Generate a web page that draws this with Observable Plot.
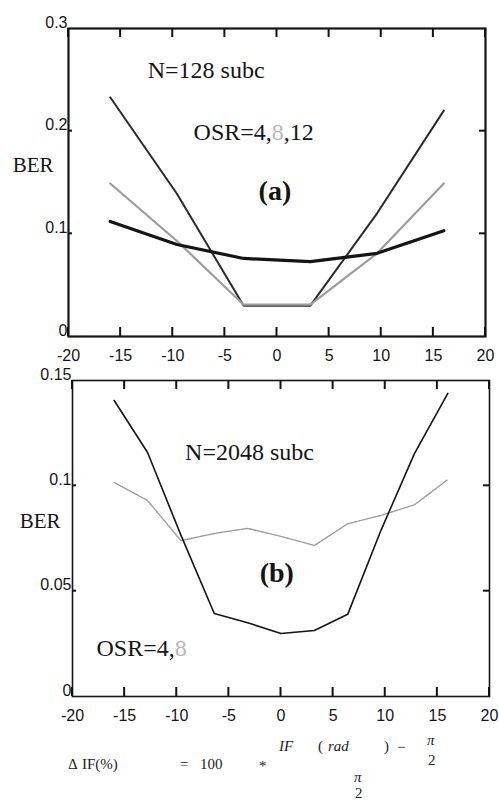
<!DOCTYPE html>
<html>
<head>
<meta charset="utf-8">
<script src="https://cdn.jsdelivr.net/npm/d3@7"></script>
<script src="https://cdn.jsdelivr.net/npm/@observablehq/plot@0.6"></script>
<style>
  body { margin: 0; background: #fff; }
  #fig { position: relative; width: 499px; height: 800px; overflow: hidden; background: #fff; }
  #fig svg { position: absolute; left: 0; overflow: visible; }
  .eq { position: absolute; font-family: "Liberation Serif", serif; font-size: 15px; line-height: 15px; color: #222; white-space: pre; }
  .it { font-style: italic; }
</style>
</head>
<body>
<div id="fig"></div>
<script>
// Panel (a): N = 128 subcarriers, BER vs IF offset (%)
const offsetA = [-16, -9.6, -3.2, 3.2, 9.6, 16];
const berA_osr4 = [0.112, 0.0896, 0.076, 0.073, 0.081, 0.103];
const berA_osr8 = [0.149, 0.093, 0.031, 0.031, 0.081, 0.149];
const berA_osr12 = [0.233, 0.139, 0.030, 0.030, 0.120, 0.220];

// Panel (b): N = 2048 subcarriers
const offsetB = [-16, -12.8, -9.6, -6.4, -3.2, 0, 3.2, 6.4, 9.6, 12.8, 16];
const berB_osr4 = [0.1405, 0.1158, 0.0766, 0.0394, 0.035, 0.0299, 0.0313, 0.039, 0.079, 0.1153, 0.1439];
const berB_osr8 = [0.1016, 0.093, 0.074, 0.0774, 0.0798, 0.076, 0.0717, 0.082, 0.086, 0.091, 0.103];

// Axis ticks
const xTicks = [-20, -15, -10, -5, 0, 5, 10, 15, 20];
const yTicksA = [0, 0.1, 0.2, 0.3];
const yTicksB = [0, 0.05, 0.1, 0.15];

// Annotation strings
const yLabel = "BER";
const notesA = ["N=128 subc", "OSR=4,8,12", "(a)"];
const notesB = ["N=2048 subc", "(b)", "OSR=4,8"];

const sans = "Liberation Sans, Arial, sans-serif";
const serif = "Liberation Serif, Times New Roman, serif";
const black = "#151515";
const gray = "#9c9c9c";
const plain = d => String(d);

const rows = (xs, ys) => xs.map((x, i) => ({x, y: ys[i]}));

// frame and tick labels
function axes(yTicks, frameWidth) {
  return [
    Plot.frame({stroke: black, strokeWidth: frameWidth}),
    Plot.axisX(xTicks, {anchor: "bottom", tickSize: 0, tickPadding: 13, tickFormat: plain, label: null, fontSize: 16, fontFamily: sans, fill: black}),
    Plot.axisY(yTicks, {anchor: "left", tickSize: 0, tickPadding: 1, dy: -6, tickFormat: plain, label: null, fontSize: 16, fontFamily: sans, fill: black})
  ];
}

const noteStyle = {fontFamily: serif, fontSize: 24, fill: black, textAnchor: "start"};
const panelStyle = {fontFamily: serif, fontSize: 28, fontWeight: "bold", fill: black};

const plotA = Plot.plot({
  width: 499, height: 368,
  marginLeft: 68, marginRight: 14, marginTop: 28, marginBottom: 32,
  x: {domain: [-20, 20]},
  y: {domain: [0, 0.3]},
  marks: [
    Plot.line(rows(offsetA, berA_osr12), {x: "x", y: "y", stroke: "#2a2a2a", strokeWidth: 2}),
    Plot.line(rows(offsetA, berA_osr8), {x: "x", y: "y", stroke: gray, strokeWidth: 2.2}),
    Plot.line(rows(offsetA, berA_osr4), {x: "x", y: "y", stroke: black, strokeWidth: 3.2}),
    ...axes(yTicksA, 2.2),
    Plot.text([yLabel], {x: -23.4, y: 0.1665, text: d => d, fontFamily: serif, fontSize: 21, fill: black}),
    Plot.text([notesA[0]], {x: -12.4, y: 0.259, text: d => d, ...noteStyle}),
    Plot.text([notesA[1]], {x: -8.0, y: 0.199, text: d => d, ...noteStyle}),
    Plot.text([notesA[2]], {x: -0.2, y: 0.142, text: d => d, ...panelStyle})
  ]
});

const plotB = Plot.plot({
  width: 499, height: 382,
  marginLeft: 72, marginRight: 10, marginTop: 12, marginBottom: 54,
  x: {domain: [-20, 20]},
  y: {domain: [0, 0.15]},
  marks: [
    Plot.line(rows(offsetB, berB_osr8), {x: "x", y: "y", stroke: gray, strokeWidth: 1.4, strokeDasharray: "3,1.2"}),
    Plot.line(rows(offsetB, berB_osr4), {x: "x", y: "y", stroke: black, strokeWidth: 1.6}),
    ...axes(yTicksB, 1.6),
    Plot.text([yLabel], {x: -23.1, y: 0.083, text: d => d, fontFamily: serif, fontSize: 21, fill: black}),
    Plot.text([notesB[0]], {x: -9.2, y: 0.1158, text: d => d, ...noteStyle}),
    Plot.text([notesB[1]], {x: -0.4, y: 0.0584, text: d => d, ...panelStyle}),
    Plot.text([notesB[2]], {x: -17.7, y: 0.0228, text: d => d, ...noteStyle})
  ]
});

// Inward tick marks on all four sides, placed with each plot's own scales
function inwardTicks(svg, yTicks, tickLen) {
  const sx = svg.scale("x"), sy = svg.scale("y");
  const [xl, xr] = sx.range, [yb, yt] = sy.range;
  const g = d3.select(svg).append("g").attr("stroke", "#111").attr("stroke-width", 2).attr("fill", "none");
  xTicks.forEach(v => {
    const x = sx.apply(v);
    g.append("path").attr("d", `M${x},${yb}V${yb - tickLen}`);
    g.append("path").attr("d", `M${x},${yt}V${yt + tickLen}`);
  });
  yTicks.slice(1, -1).forEach(v => {
    const y = sy.apply(v);
    g.append("path").attr("d", `M${xl},${y}H${xl + 4}`);
    g.append("path").attr("d", `M${xr},${y}H${xr - 6}`);
  });
}
inwardTicks(plotA, yTicksA, 9);
inwardTicks(plotB, yTicksB, 9);

// Colour the OSR=8 entry grey, like its curve
function greyEight(svg) {
  svg.querySelectorAll("text").forEach(t => {
    const s = t.textContent;
    if (!s.startsWith("OSR=")) return;
    const i = s.indexOf("8");
    t.textContent = "";
    const ns = "http://www.w3.org/2000/svg";
    [[s.slice(0, i), black], ["8", "#b8b8b8"], [s.slice(i + 1), black]].forEach(([str, col]) => {
      if (!str) return;
      const ts = document.createElementNS(ns, "tspan");
      ts.setAttribute("fill", col);
      ts.textContent = str;
      t.appendChild(ts);
    });
  });
}
greyEight(plotA);
greyEight(plotB);

const fig = document.getElementById("fig");
plotA.style.top = "0px";
plotB.style.top = "368px";
fig.appendChild(plotA);
fig.appendChild(plotB);

// Definition of the IF offset, written out below the plots
const eqParts = [
  ["\u0394", 68, 757, ""], ["IF(%)", 82, 757, ""], ["=", 180, 757, ""], ["100", 200, 757, ""], ["*", 259, 759, ""],
  ["IF", 279, 739, "it"], ["(", 318, 739, ""], ["rad", 328, 739, "it"], [")", 384, 739, ""], ["\u2212", 397, 740, ""],
  ["\u03c0", 427, 733, "it"], ["2", 428, 753, ""],
  ["\u03c0", 354, 770, "it"], ["2", 355, 786, ""]
];
eqParts.forEach(([s, x, y, cls]) => {
  const el = document.createElement("div");
  el.className = "eq " + cls;
  el.style.left = x + "px";
  el.style.top = y + "px";
  el.textContent = s;
  fig.appendChild(el);
});
</script>
</body>
</html>
